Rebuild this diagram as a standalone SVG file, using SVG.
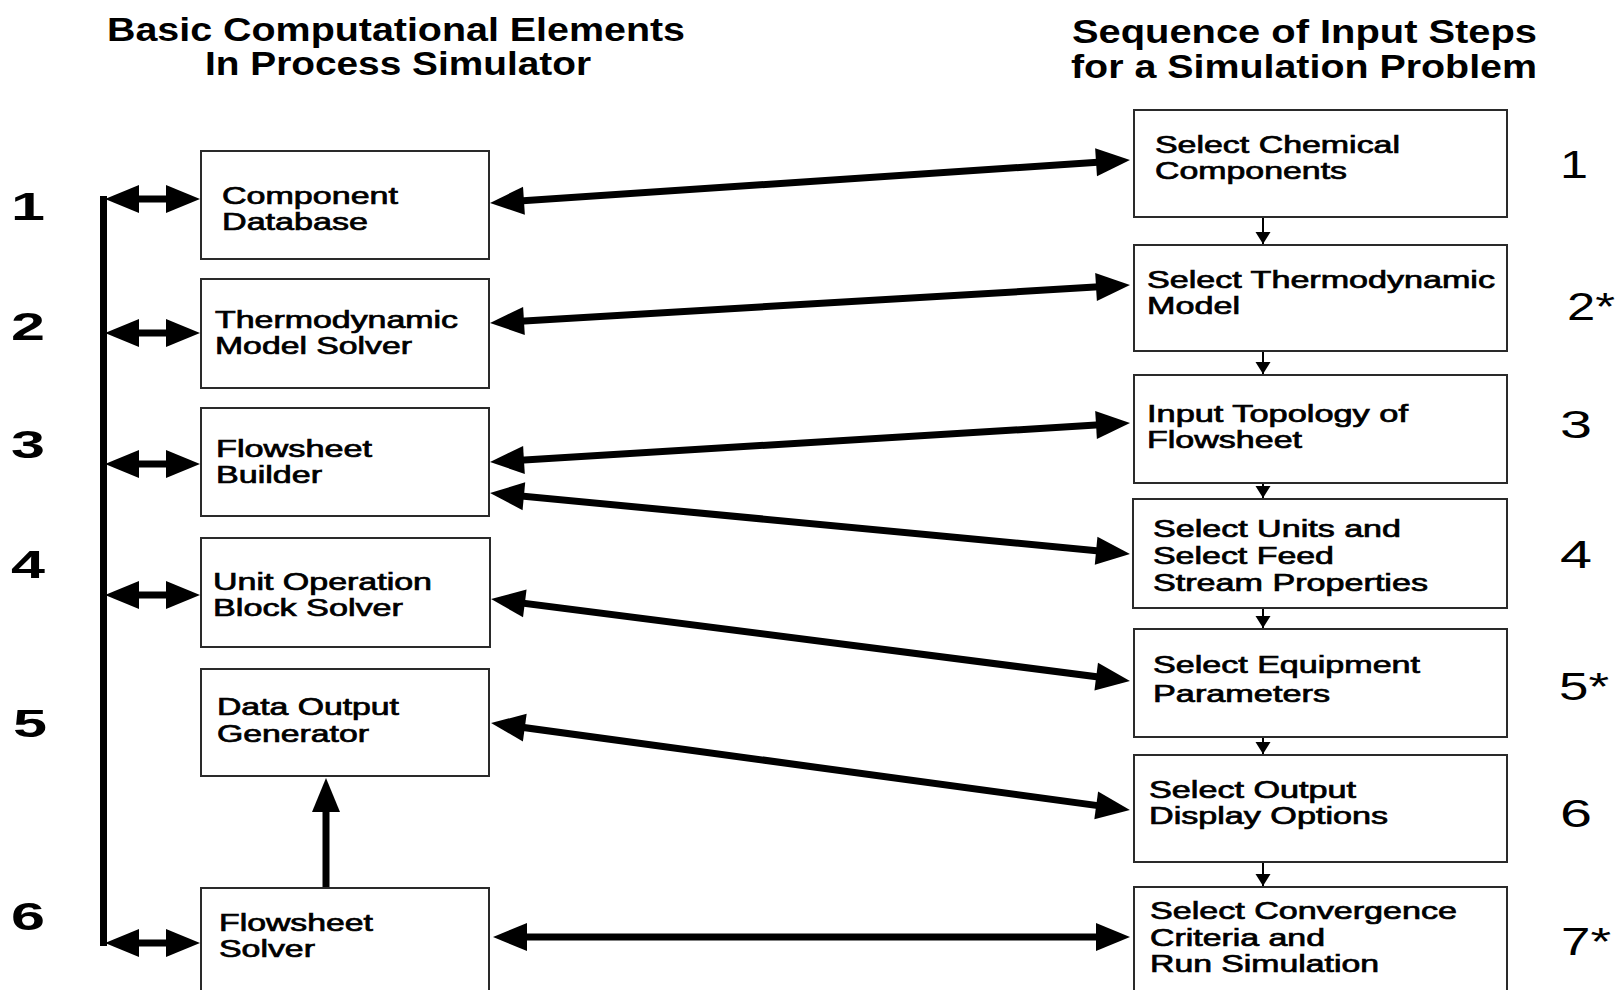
<svg xmlns="http://www.w3.org/2000/svg" width="1619" height="990" viewBox="0 0 1619 990">
<style>
.box{fill:#fff;stroke:#2a2a2a;stroke-width:2}
.lbl{font-family:"Liberation Sans",Arial,sans-serif;font-size:23px;fill:#000;stroke:#000;stroke-width:0.7}
.title{font-family:"Liberation Sans",Arial,sans-serif;font-weight:bold;font-size:33px;fill:#000}
.numL{font-family:"Liberation Sans",Arial,sans-serif;font-weight:bold;font-size:39px;fill:#000}
.numR{font-family:"Liberation Sans",Arial,sans-serif;font-size:38px;fill:#000}
.conn{stroke:#000;stroke-width:7;fill:none;marker-start:url(#ah);marker-end:url(#ah)}
.one{stroke:#000;stroke-width:7;fill:none;marker-end:url(#ah)}
.bus{stroke:#000;stroke-width:7;fill:none}
.thin{stroke:#000;stroke-width:2;fill:none;marker-end:url(#sh)}
</style>
<defs>
<marker id="ah" markerUnits="userSpaceOnUse" markerWidth="40" markerHeight="32" viewBox="0 -16 40 32" refX="24" refY="0" orient="auto-start-reverse" overflow="visible">
<path d="M0,-14 L34,0 L0,14 Z" fill="#000"/>
</marker>
<marker id="sh" markerUnits="userSpaceOnUse" markerWidth="14" markerHeight="16" viewBox="0 -8 14 16" refX="12" refY="0" orient="auto" overflow="visible">
<path d="M0,-7.5 L12,0 L0,7.5 Z" fill="#000"/>
</marker>
</defs>
<rect width="1619" height="990" fill="#fff"/>

<g id="titles">
<text class="title" x="107" y="41" textLength="578" lengthAdjust="spacingAndGlyphs">Basic Computational Elements</text>
<text class="title" x="205" y="75" textLength="386" lengthAdjust="spacingAndGlyphs">In Process Simulator</text>
<text class="title" x="1072" y="43" textLength="465" lengthAdjust="spacingAndGlyphs">Sequence of Input Steps</text>
<text class="title" x="1071" y="78" textLength="466" lengthAdjust="spacingAndGlyphs">for a Simulation Problem</text>
</g>

<g id="left-numbers">
<text class="numL" x="11" y="220" textLength="34" lengthAdjust="spacingAndGlyphs">1</text>
<text class="numL" x="11" y="340" textLength="34" lengthAdjust="spacingAndGlyphs">2</text>
<text class="numL" x="11" y="458" textLength="34" lengthAdjust="spacingAndGlyphs">3</text>
<text class="numL" x="11" y="578" textLength="34" lengthAdjust="spacingAndGlyphs">4</text>
<text class="numL" x="13" y="737" textLength="34" lengthAdjust="spacingAndGlyphs">5</text>
<text class="numL" x="11" y="930" textLength="34" lengthAdjust="spacingAndGlyphs">6</text>
</g>

<g id="right-numbers">
<text class="numR" x="1560" y="178" textLength="28" lengthAdjust="spacingAndGlyphs">1</text>
<text class="numR" x="1567" y="320" textLength="48" lengthAdjust="spacingAndGlyphs">2*</text>
<text class="numR" x="1560" y="438" textLength="32" lengthAdjust="spacingAndGlyphs">3</text>
<text class="numR" x="1560" y="568" textLength="32" lengthAdjust="spacingAndGlyphs">4</text>
<text class="numR" x="1559" y="700" textLength="50" lengthAdjust="spacingAndGlyphs">5*</text>
<text class="numR" x="1560" y="827" textLength="32" lengthAdjust="spacingAndGlyphs">6</text>
<text class="numR" x="1561" y="955" textLength="50" lengthAdjust="spacingAndGlyphs">7*</text>
</g>

<g id="component-database">
<rect class="box" x="201" y="151" width="288" height="108"/>
<text class="lbl" x="222" y="204" textLength="176" lengthAdjust="spacingAndGlyphs">Component</text>
<text class="lbl" x="222" y="230" textLength="146" lengthAdjust="spacingAndGlyphs">Database</text>
</g>
<g id="thermodynamic-model-solver">
<rect class="box" x="201" y="279" width="288" height="109"/>
<text class="lbl" x="215" y="328" textLength="243" lengthAdjust="spacingAndGlyphs">Thermodynamic</text>
<text class="lbl" x="215" y="354" textLength="197" lengthAdjust="spacingAndGlyphs">Model Solver</text>
</g>
<g id="flowsheet-builder">
<rect class="box" x="201" y="408" width="288" height="108"/>
<text class="lbl" x="216" y="457" textLength="156" lengthAdjust="spacingAndGlyphs">Flowsheet</text>
<text class="lbl" x="216" y="483" textLength="106" lengthAdjust="spacingAndGlyphs">Builder</text>
</g>
<g id="unit-operation-block-solver">
<rect class="box" x="201" y="538" width="289" height="109"/>
<text class="lbl" x="213" y="590" textLength="219" lengthAdjust="spacingAndGlyphs">Unit Operation</text>
<text class="lbl" x="213" y="616" textLength="190" lengthAdjust="spacingAndGlyphs">Block Solver</text>
</g>
<g id="data-output-generator">
<rect class="box" x="201" y="669" width="288" height="107"/>
<text class="lbl" x="217" y="715" textLength="182" lengthAdjust="spacingAndGlyphs">Data Output</text>
<text class="lbl" x="217" y="742" textLength="152" lengthAdjust="spacingAndGlyphs">Generator</text>
</g>
<g id="flowsheet-solver">
<rect class="box" x="201" y="888" width="288" height="120"/>
<text class="lbl" x="219" y="931" textLength="154" lengthAdjust="spacingAndGlyphs">Flowsheet</text>
<text class="lbl" x="219" y="957" textLength="96" lengthAdjust="spacingAndGlyphs">Solver</text>
</g>

<g id="select-chemical-components">
<rect class="box" x="1134" y="110" width="373" height="107"/>
<text class="lbl" x="1155" y="153" textLength="245" lengthAdjust="spacingAndGlyphs">Select Chemical</text>
<text class="lbl" x="1155" y="179" textLength="192" lengthAdjust="spacingAndGlyphs">Components</text>
</g>
<g id="select-thermodynamic-model">
<rect class="box" x="1134" y="245" width="373" height="106"/>
<text class="lbl" x="1147" y="288" textLength="348" lengthAdjust="spacingAndGlyphs">Select Thermodynamic</text>
<text class="lbl" x="1147" y="314" textLength="93" lengthAdjust="spacingAndGlyphs">Model</text>
</g>
<g id="input-topology">
<rect class="box" x="1134" y="375" width="373" height="108"/>
<text class="lbl" x="1147" y="422" textLength="261" lengthAdjust="spacingAndGlyphs">Input Topology of</text>
<text class="lbl" x="1147" y="448" textLength="155" lengthAdjust="spacingAndGlyphs">Flowsheet</text>
</g>
<g id="select-units">
<rect class="box" x="1133" y="499" width="374" height="109"/>
<text class="lbl" x="1153" y="537" textLength="248" lengthAdjust="spacingAndGlyphs">Select Units and</text>
<text class="lbl" x="1153" y="564" textLength="181" lengthAdjust="spacingAndGlyphs">Select Feed</text>
<text class="lbl" x="1153" y="591" textLength="275" lengthAdjust="spacingAndGlyphs">Stream Properties</text>
</g>
<g id="select-equipment">
<rect class="box" x="1134" y="629" width="373" height="108"/>
<text class="lbl" x="1153" y="673" textLength="267" lengthAdjust="spacingAndGlyphs">Select Equipment</text>
<text class="lbl" x="1153" y="702" textLength="177" lengthAdjust="spacingAndGlyphs">Parameters</text>
</g>
<g id="select-output">
<rect class="box" x="1134" y="755" width="373" height="107"/>
<text class="lbl" x="1149" y="798" textLength="207" lengthAdjust="spacingAndGlyphs">Select Output</text>
<text class="lbl" x="1149" y="824" textLength="239" lengthAdjust="spacingAndGlyphs">Display Options</text>
</g>
<g id="select-convergence">
<rect class="box" x="1134" y="887" width="373" height="120"/>
<text class="lbl" x="1150" y="919" textLength="307" lengthAdjust="spacingAndGlyphs">Select Convergence</text>
<text class="lbl" x="1150" y="946" textLength="175" lengthAdjust="spacingAndGlyphs">Criteria and</text>
<text class="lbl" x="1150" y="972" textLength="229" lengthAdjust="spacingAndGlyphs">Run Simulation</text>
</g>

<g id="connectors">
<path class="bus" d="M103.5,196 V946"/>
<path class="conn" d="M115,199 H190"/>
<path class="conn" d="M115,333 H190"/>
<path class="conn" d="M115,464 H190"/>
<path class="conn" d="M115,595 H190"/>
<path class="conn" d="M115,943 H190"/>
<path class="one" d="M326,887 V788"/>
<path class="conn" d="M500,202.3 L1120,160.7"/>
<path class="conn" d="M500,322.4 L1120,285.6"/>
<path class="conn" d="M500,461.4 L1120,423.6"/>
<path class="conn" d="M500,494 L1120,553"/>
<path class="conn" d="M501,600.3 L1120,679.7"/>
<path class="conn" d="M501,724.4 L1120,808.6"/>
<path class="conn" d="M503,937 L1120,937"/>
<path class="thin" d="M1263,218 V244"/>
<path class="thin" d="M1263,352 V374"/>
<path class="thin" d="M1263,484 V498"/>
<path class="thin" d="M1263,609 V628"/>
<path class="thin" d="M1263,738 V754"/>
<path class="thin" d="M1263,863 V886"/>
</g>
</svg>
